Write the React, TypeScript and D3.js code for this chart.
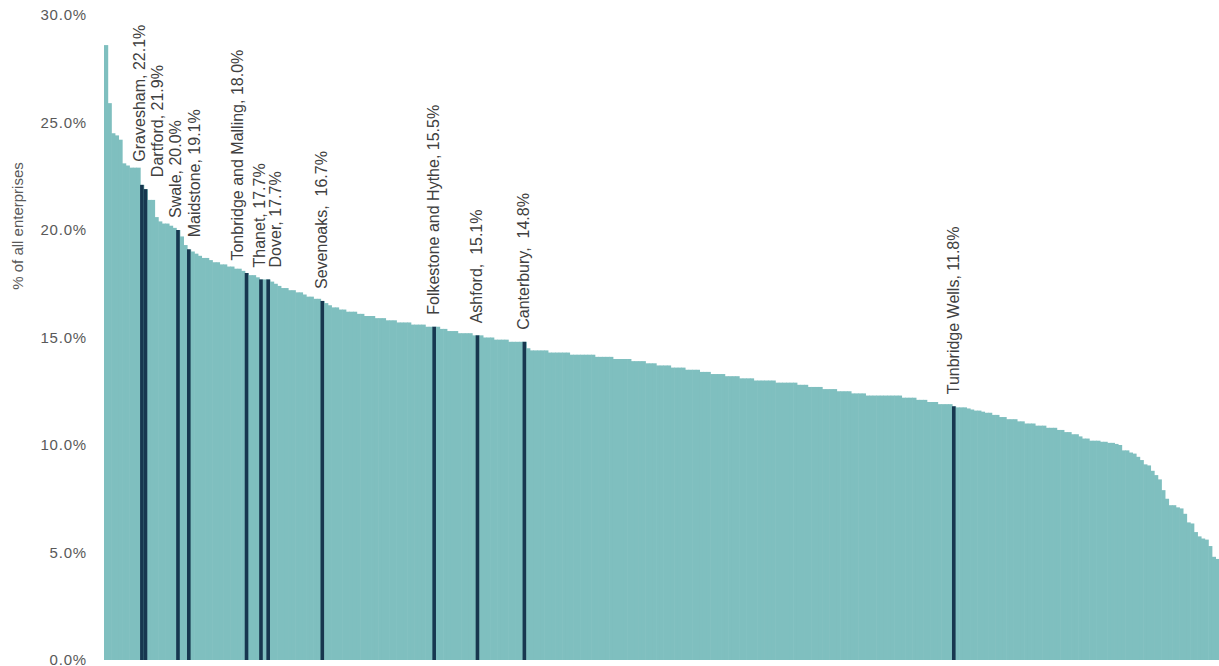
import React from "react";
import * as d3 from "d3";

// Share of enterprises, all local authorities sorted descending (%)
const ALL_VALUES: number[] = [
  28.6, 25.9, 24.5, 24.4, 24.2, 23.1, 23.0, 22.9, 22.9, 22.9,
  22.1, 21.9, 21.4, 21.4, 20.6, 20.4, 20.3, 20.3, 20.2, 20.1,
  20.0, 19.7, 19.3, 19.1, 19.0, 18.9, 18.8, 18.7, 18.7, 18.6,
  18.5, 18.5, 18.4, 18.4, 18.3, 18.3, 18.2, 18.2, 18.1, 18.0,
  17.9, 17.9, 17.8, 17.7, 17.7, 17.7, 17.6, 17.5, 17.4, 17.3,
  17.3, 17.2, 17.2, 17.1, 17.1, 17.0, 16.9, 16.9, 16.8, 16.8,
  16.7, 16.6, 16.5, 16.4, 16.4, 16.3, 16.3, 16.2, 16.2, 16.2,
  16.1, 16.1, 16.0, 16.0, 16.0, 15.9, 15.9, 15.9, 15.8, 15.8,
  15.8, 15.7, 15.7, 15.7, 15.7, 15.6, 15.6, 15.6, 15.6, 15.5,
  15.5, 15.5, 15.5, 15.4, 15.4, 15.3, 15.3, 15.3, 15.2, 15.2,
  15.2, 15.2, 15.1, 15.1, 15.1, 15.0, 15.0, 15.0, 14.9, 14.9,
  14.9, 14.9, 14.8, 14.8, 14.8, 14.8, 14.8, 14.5, 14.4, 14.4,
  14.4, 14.4, 14.4, 14.3, 14.3, 14.3, 14.3, 14.3, 14.3, 14.2,
  14.2, 14.2, 14.2, 14.2, 14.2, 14.2, 14.1, 14.1, 14.1, 14.1,
  14.1, 14.0, 14.0, 14.0, 14.0, 14.0, 13.9, 13.9, 13.9, 13.9,
  13.8, 13.8, 13.8, 13.7, 13.7, 13.7, 13.7, 13.6, 13.6, 13.6,
  13.6, 13.5, 13.5, 13.5, 13.5, 13.4, 13.4, 13.4, 13.3, 13.3,
  13.3, 13.3, 13.2, 13.2, 13.2, 13.2, 13.1, 13.1, 13.1, 13.1,
  13.0, 13.0, 13.0, 13.0, 13.0, 13.0, 12.9, 12.9, 12.9, 12.9,
  12.9, 12.9, 12.8, 12.8, 12.8, 12.7, 12.7, 12.7, 12.7, 12.6,
  12.6, 12.6, 12.6, 12.5, 12.5, 12.5, 12.5, 12.4, 12.4, 12.4,
  12.4, 12.3, 12.3, 12.3, 12.3, 12.3, 12.3, 12.3, 12.3, 12.3,
  12.3, 12.2, 12.2, 12.2, 12.2, 12.1, 12.1, 12.1, 12.0, 12.0,
  12.0, 11.9, 11.9, 11.9, 11.9, 11.8, 11.75, 11.75, 11.75, 11.7,
  11.65, 11.6, 11.6, 11.55, 11.5, 11.5, 11.4, 11.4, 11.3, 11.3,
  11.2, 11.2, 11.2, 11.1, 11.1, 11.0, 11.0, 11.0, 10.9, 10.9,
  10.9, 10.8, 10.8, 10.8, 10.7, 10.7, 10.6, 10.6, 10.5, 10.5,
  10.4, 10.3, 10.3, 10.2, 10.2, 10.2, 10.15, 10.15, 10.1, 10.1,
  10.05, 10.0, 9.75, 9.75, 9.65, 9.6, 9.45, 9.3, 9.1, 9.05,
  8.8, 8.6, 8.4, 7.9, 7.5, 7.2, 7.2, 7.1, 7.05, 6.8,
  6.4, 6.35, 5.95, 5.75, 5.65, 5.6, 5.3, 4.8, 4.7,
];

const KENT_NAMES: string[] = [
  "Gravesham", "Dartford", "Swale", "Maidstone", "Tonbridge and Malling",
  "Thanet", "Dover", "Sevenoaks", "Folkestone and Hythe", "Ashford",
  "Canterbury", "Tunbridge Wells",
];
const KENT_VALUES: number[] = [22.1, 21.9, 20.0, 19.1, 18.0, 17.7, 17.7, 16.7, 15.5, 15.1, 14.8, 11.8];
const KENT_RANKS: number[] = [10, 11, 20, 23, 39, 43, 45, 60, 91, 103, 116, 235];
const KENT_SEPARATORS: string[] = [", ", ", ", ", ", ", ", ", ", ", ", ", ", ",  ", ", ", ",  ", ",  ", ", "];

const TICK_VALUES: number[] = [0, 5, 10, 15, 20, 25, 30];
const Y_TITLE = "% of all enterprises";

// layout (label nudges, px, to keep labels apart)
const LABEL_NUDGE: Record<string, number> = {
  Gravesham: 3,
  Dartford: 18,
  Swale: 3,
  Maidstone: 11,
  "Tonbridge and Malling": -4,
  Thanet: 4,
  Dover: 13,
};

const LIGHT = "#7fbfbf";
const DARK = "#17374f";

export default function App() {
  const W = 1219;
  const H = 666;
  const x = d3
    .scaleBand<number>()
    .domain(d3.range(ALL_VALUES.length))
    .range([104, 1219])
    .paddingInner(0)
    .paddingOuter(0);
  const y = d3.scaleLinear().domain([0, 30]).range([660, 15]);
  const bw = x.bandwidth();
  const fmt = d3.format(".1f");

  const labels = KENT_NAMES.map((name, i) => {
    const rank = KENT_RANKS[i];
    const cx = (x(rank) as number) + bw / 2;
    const nudge = LABEL_NUDGE[name] ?? 5;
    const bx = cx + nudge;
    // find bars covered by the label's glyph span
    let top = y(KENT_VALUES[i]) - 12;
    ALL_VALUES.forEach((v, j) => {
      const x0 = x(j) as number;
      if (x0 + bw > bx - 12 && x0 < bx + 2) {
        top = Math.min(top, y(v) - 6);
      }
    });
    return {
      text: `${name}${KENT_SEPARATORS[i]}${fmt(KENT_VALUES[i])}%`,
      bx,
      by: top,
    };
  });

  return (
    <svg
      width={W}
      height={H}
      style={{ position: "absolute", left: 0, top: 0, background: "#fff" }}
      fontFamily="'Liberation Sans', Arial, sans-serif"
    >
      <g>
        {ALL_VALUES.map((v, i) => (
          <rect
            key={i}
            x={x(i) as number}
            y={y(v)}
            width={bw + 0.6}
            height={y(0) - y(v)}
            fill={LIGHT}
          />
        ))}
      </g>
      <g>
        {KENT_RANKS.map((r, i) => (
          <rect
            key={i}
            x={x(r) as number}
            y={y(KENT_VALUES[i])}
            width={bw}
            height={y(0) - y(KENT_VALUES[i])}
            fill={DARK}
          />
        ))}
      </g>
      <g>
        {TICK_VALUES.map((t) => (
          <text
            key={t}
            x={87}
            y={y(t)}
            dy="0.35em"
            textAnchor="end"
            fontSize={15}
            letterSpacing={0.8}
            fill="#595959"
          >
            {fmt(t)}%
          </text>
        ))}
      </g>
      <text
        transform={`translate(23, 226) rotate(-90)`}
        textAnchor="middle"
        fontSize={15}
        fill="#595959"
      >
        {Y_TITLE}
      </text>
      <g>
        {labels.map((l, i) => (
          <text
            key={i}
            transform={`translate(${l.bx}, ${l.by}) rotate(-90)`}
            textAnchor="start"
            fontSize={16}
            fill="#404040"
            style={{ whiteSpace: "pre" }}
          >
            {l.text}
          </text>
        ))}
      </g>
    </svg>
  );
}
